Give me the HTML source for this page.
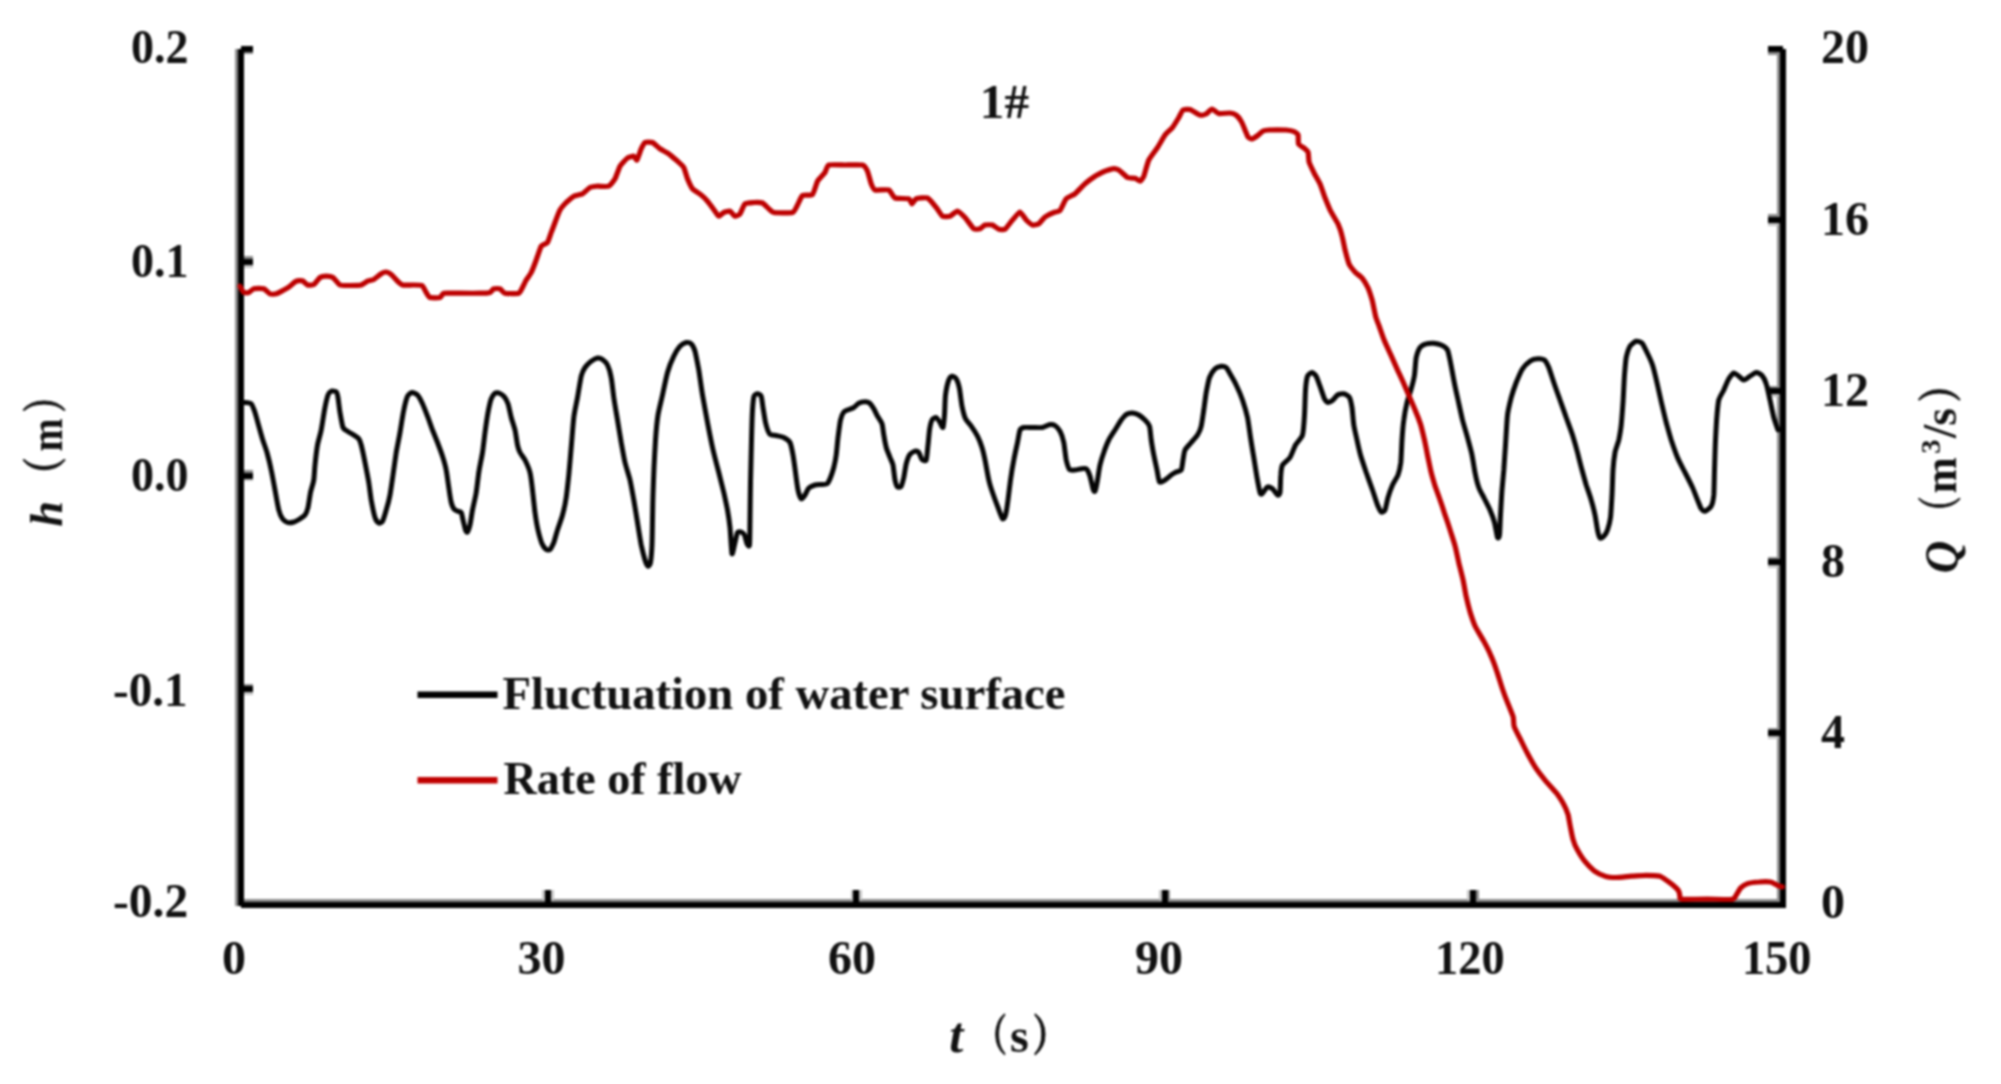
<!DOCTYPE html>
<html lang="en">
<head>
<meta charset="utf-8">
<title>1# Fluctuation of water surface and rate of flow</title>
<style>
html,body{margin:0;padding:0;background:#fff;}
body{width:2001px;height:1084px;overflow:hidden;}
svg{display:block;filter:blur(0.9px);}
text{font-family:"Liberation Serif","Noto Serif CJK SC",serif;font-weight:bold;font-size:48px;fill:#111;}
.it{font-style:italic;}
.cjk{font-family:"Noto Serif CJK SC","Liberation Serif",serif;font-weight:bold;stroke:#111;stroke-width:1.3px;}
.ax{stroke:#000;fill:none;}
</style>
</head>
<body>
<svg width="2001" height="1084" viewBox="0 0 2001 1084">
<rect width="2001" height="1084" fill="#fff"/>
<!-- axes -->
<g id="axes" shape-rendering="crispEdges">
<rect x="235.4" y="48.5" width="2.8" height="857" fill="#8c8c8c"/>
<rect x="244" y="899.2" width="1534" height="3" fill="#8c8c8c"/>
<rect x="1777" y="48.5" width="3" height="853" fill="#8c8c8c"/>
<rect x="244" y="51.5" width="9.2" height="2.6" fill="#8c8c8c"/>
<rect x="241" y="45.5" width="12.2" height="6" fill="#000"/>
<rect x="244" y="256.4" width="9.2" height="2.7" fill="#8c8c8c"/>
<rect x="244" y="265.1" width="9.2" height="2.6" fill="#c4c4c4"/>
<rect x="241" y="259.1" width="12.2" height="6" fill="#000"/>
<rect x="244" y="469.9" width="9.2" height="2.7" fill="#8c8c8c"/>
<rect x="244" y="478.6" width="9.2" height="2.6" fill="#c4c4c4"/>
<rect x="241" y="472.6" width="12.2" height="6" fill="#000"/>
<rect x="244" y="683.5" width="9.2" height="2.7" fill="#8c8c8c"/>
<rect x="244" y="692.2" width="9.2" height="2.6" fill="#c4c4c4"/>
<rect x="241" y="686.2" width="12.2" height="6" fill="#000"/>
<rect x="1767.6" y="52.0" width="10" height="2.6" fill="#8c8c8c"/>
<rect x="1767.6" y="46.0" width="15" height="6" fill="#000"/>
<rect x="1767.6" y="214.4" width="10" height="2.7" fill="#8c8c8c"/>
<rect x="1767.6" y="223.1" width="10" height="2.6" fill="#c4c4c4"/>
<rect x="1767.6" y="217.1" width="15" height="6" fill="#000"/>
<rect x="1767.6" y="385.5" width="10" height="2.7" fill="#8c8c8c"/>
<rect x="1767.6" y="394.2" width="10" height="2.6" fill="#c4c4c4"/>
<rect x="1767.6" y="388.2" width="15" height="6" fill="#000"/>
<rect x="1767.6" y="556.6" width="10" height="2.7" fill="#8c8c8c"/>
<rect x="1767.6" y="565.3" width="10" height="2.6" fill="#c4c4c4"/>
<rect x="1767.6" y="559.3" width="15" height="6" fill="#000"/>
<rect x="1767.6" y="727.7" width="10" height="2.7" fill="#8c8c8c"/>
<rect x="1767.6" y="736.4" width="10" height="2.6" fill="#c4c4c4"/>
<rect x="1767.6" y="730.4" width="15" height="6" fill="#000"/>
<rect x="542.3" y="890" width="2.7" height="10" fill="#c4c4c4"/>
<rect x="551.0" y="890" width="2.7" height="10" fill="#c4c4c4"/>
<rect x="545.0" y="890" width="6" height="14" fill="#000"/>
<rect x="850.6" y="890" width="2.7" height="10" fill="#c4c4c4"/>
<rect x="859.3" y="890" width="2.7" height="10" fill="#c4c4c4"/>
<rect x="853.3" y="890" width="6" height="14" fill="#000"/>
<rect x="1158.9" y="890" width="2.7" height="10" fill="#c4c4c4"/>
<rect x="1167.6" y="890" width="2.7" height="10" fill="#8c8c8c"/>
<rect x="1161.6" y="890" width="6" height="14" fill="#000"/>
<rect x="1467.2" y="890" width="2.7" height="10" fill="#c4c4c4"/>
<rect x="1475.9" y="890" width="2.7" height="10" fill="#8c8c8c"/>
<rect x="1469.9" y="890" width="6" height="14" fill="#000"/>
<rect x="238.1" y="48.5" width="6.2" height="857" fill="#000"/>
<rect x="241" y="902.2" width="1544.6" height="5.6" fill="#000"/>
<rect x="1779.8" y="48.5" width="5.8" height="859" fill="#000"/>
</g>
<!-- curves -->
<g id="curves" fill="none" stroke-linejoin="round" stroke-linecap="round">
<path id="blk" d="M243.8 402.5C244.6 402.6 250.0 402.6 251.2 403.8C252.5 404.9 254.2 410.2 255.0 412.5C255.8 414.8 257.6 422.0 258.5 425.0C259.4 428.0 261.8 437.0 262.8 440.0C263.7 443.0 266.1 449.2 267.0 452.5C267.9 455.8 270.4 465.9 271.2 470.0C272.1 474.1 274.2 485.6 275.0 490.0C275.8 494.4 277.9 506.8 278.8 510.0C279.6 513.2 281.5 517.4 282.5 518.8C283.5 520.1 286.3 522.1 287.5 522.5C288.7 522.9 292.4 522.4 293.8 522.0C295.1 521.6 298.8 519.5 300.0 518.8C301.2 518.0 304.1 516.2 305.0 515.0C305.9 513.8 307.4 510.0 308.0 507.5C308.6 505.0 309.9 495.5 310.5 492.5C311.1 489.5 313.3 483.0 313.8 480.0C314.2 477.0 314.6 468.9 315.0 465.0C315.4 461.1 316.8 448.9 317.5 445.0C318.2 441.1 320.5 433.9 321.2 430.0C322.0 426.1 323.8 413.9 324.5 410.0C325.2 406.1 327.3 397.1 328.0 395.0C328.7 392.9 330.3 391.6 331.2 391.2C332.2 390.9 335.5 391.1 336.2 391.8C337.0 392.4 337.6 395.2 338.0 397.5C338.4 399.8 339.4 409.2 340.0 412.5C340.6 415.8 342.2 425.4 343.0 427.5C343.8 429.6 346.3 430.4 347.5 431.2C348.7 432.1 352.5 434.2 353.8 435.0C355.0 435.8 357.9 437.6 358.8 438.8C359.6 439.9 360.6 442.4 361.2 445.0C361.9 447.6 364.2 458.4 365.0 462.5C365.8 466.6 368.1 478.4 368.8 482.5C369.4 486.6 370.6 496.1 371.2 500.0C371.9 503.9 374.2 515.0 375.0 517.5C375.8 520.0 377.9 522.6 378.8 523.0C379.6 523.4 381.7 522.7 382.5 521.2C383.3 519.8 385.4 512.9 386.2 510.0C387.1 507.1 389.3 498.9 390.0 495.0C390.7 491.1 392.3 479.7 393.0 475.0C393.7 470.3 395.5 457.2 396.2 452.5C397.0 447.8 399.2 437.2 400.0 432.5C400.8 427.8 402.9 414.0 403.8 410.0C404.6 406.0 406.6 398.2 407.5 396.2C408.4 394.3 410.9 392.6 412.0 392.5C413.1 392.4 416.3 393.8 417.5 395.0C418.7 396.2 421.4 401.4 422.5 403.8C423.6 406.1 426.4 413.4 427.5 416.2C428.6 419.1 431.4 427.1 432.5 430.0C433.6 432.9 436.4 439.6 437.5 442.5C438.6 445.4 441.5 453.2 442.5 456.2C443.5 459.3 445.6 466.6 446.2 470.0C446.9 473.4 448.2 483.9 448.8 487.5C449.3 491.1 450.7 500.2 451.2 502.5C451.8 504.8 453.1 507.8 453.8 508.8C454.4 509.7 456.7 510.8 457.5 511.2C458.3 511.7 460.6 511.5 461.2 512.5C461.9 513.5 462.5 518.1 463.0 520.0C463.5 521.9 465.0 528.7 465.5 530.0C466.0 531.3 467.0 532.5 467.5 532.0C468.0 531.5 469.4 527.4 470.0 525.0C470.6 522.6 471.8 513.6 472.5 510.0C473.2 506.4 475.6 496.6 476.2 492.5C476.9 488.4 478.1 476.9 478.8 472.5C479.4 468.1 481.8 456.9 482.5 452.5C483.2 448.1 484.4 436.9 485.0 432.5C485.6 428.1 487.3 416.2 488.0 412.5C488.7 408.8 490.5 400.9 491.2 398.8C492.0 396.6 494.2 393.9 495.0 393.2C495.8 392.6 497.8 392.7 498.8 393.0C499.7 393.3 502.7 395.1 503.8 396.2C504.8 397.4 507.2 401.4 508.0 403.8C508.8 406.1 510.5 414.6 511.2 417.5C512.0 420.4 514.3 427.0 515.0 430.0C515.7 433.0 517.0 442.5 517.5 445.0C518.0 447.5 519.2 450.9 520.0 452.5C520.8 454.1 523.9 457.8 525.0 460.0C526.1 462.2 529.2 469.2 530.0 472.5C530.8 475.8 532.0 485.6 532.5 490.0C533.0 494.4 534.4 508.1 535.0 512.5C535.6 516.9 537.2 526.6 538.0 530.0C538.8 533.4 541.1 541.6 542.0 543.8C542.9 545.9 545.4 548.9 546.2 549.5C547.1 550.1 549.2 550.3 550.0 549.5C550.8 548.7 552.9 544.6 553.8 542.5C554.6 540.4 556.5 533.0 557.5 530.0C558.5 527.0 561.5 518.6 562.5 515.0C563.5 511.4 565.6 501.9 566.2 497.5C566.9 493.1 568.2 480.5 568.8 475.0C569.3 469.5 570.7 453.8 571.2 447.5C571.8 441.2 573.1 423.0 573.8 417.5C574.4 412.0 576.7 402.0 577.5 397.5C578.3 393.0 580.4 379.6 581.2 376.2C582.1 372.9 583.9 369.1 585.0 367.5C586.1 365.9 589.9 362.3 591.2 361.2C592.6 360.2 596.3 358.2 597.5 358.0C598.7 357.8 601.4 358.7 602.5 359.5C603.6 360.3 606.5 363.0 607.5 365.0C608.5 367.0 610.6 373.9 611.2 377.5C611.9 381.1 613.1 392.8 613.8 397.5C614.4 402.2 616.7 415.1 617.5 420.0C618.3 424.9 620.4 437.8 621.2 442.5C622.1 447.2 624.0 458.4 625.0 462.5C626.0 466.6 629.0 475.9 630.0 480.0C631.0 484.1 632.9 495.3 633.8 500.0C634.6 504.7 636.7 517.5 637.5 522.5C638.3 527.5 640.4 540.9 641.2 545.0C642.1 549.1 644.3 557.7 645.0 560.0C645.7 562.3 647.4 566.0 648.0 566.2C648.6 566.5 650.1 564.8 650.5 562.5C650.9 560.2 651.8 549.7 652.0 545.0C652.2 540.3 652.4 525.5 652.5 520.0C652.6 514.5 652.8 500.8 653.0 495.0C653.2 489.2 653.7 473.6 654.0 467.5C654.3 461.4 655.1 445.8 655.5 440.0C655.9 434.2 657.2 419.9 658.0 415.0C658.8 410.1 661.5 399.7 662.5 395.0C663.5 390.3 666.3 376.8 667.5 372.5C668.7 368.2 672.4 359.1 673.8 356.2C675.1 353.4 678.6 347.8 680.0 346.2C681.4 344.7 685.0 342.8 686.2 342.5C687.5 342.2 690.3 342.8 691.2 343.8C692.2 344.7 694.2 348.4 695.0 351.2C695.8 354.1 697.9 365.2 698.8 370.0C699.6 374.8 701.5 389.2 702.5 395.0C703.5 400.8 706.4 416.7 707.5 422.5C708.6 428.3 711.3 442.0 712.5 447.5C713.7 453.0 717.5 467.6 718.8 472.5C720.0 477.4 722.8 488.4 723.8 492.5C724.7 496.6 726.8 506.1 727.5 510.0C728.2 513.9 729.5 522.7 730.0 527.5C730.5 532.3 731.5 552.1 732.0 553.8C732.5 555.4 734.4 544.8 735.0 542.5C735.6 540.2 736.8 533.7 737.5 532.5C738.2 531.3 740.5 531.7 741.2 532.0C742.0 532.3 743.9 533.7 744.5 535.0C745.1 536.3 746.5 542.6 747.0 543.8C747.5 544.9 749.2 547.6 749.5 545.0C749.8 542.4 749.9 526.9 750.0 520.0C750.1 513.1 750.3 491.3 750.5 482.5C750.7 473.7 751.3 448.0 751.5 440.0C751.7 432.0 752.2 414.8 752.5 410.0C752.8 405.2 753.5 398.0 754.0 396.2C754.5 394.5 756.7 393.8 757.5 393.8C758.3 393.8 760.6 394.7 761.2 396.2C761.9 397.8 762.5 404.6 763.0 407.5C763.5 410.4 764.8 419.6 765.5 422.5C766.2 425.4 768.3 432.3 769.5 433.8C770.7 435.2 774.7 435.1 776.2 435.5C777.8 435.9 782.2 436.7 783.8 437.5C785.3 438.3 789.0 440.6 790.0 442.5C791.0 444.4 792.4 451.7 793.0 455.0C793.6 458.3 795.0 468.6 795.5 472.5C796.0 476.4 797.4 487.1 798.0 490.0C798.6 492.9 800.5 498.2 801.2 498.8C802.0 499.3 804.2 496.2 805.0 495.0C805.8 493.8 807.6 489.1 808.8 488.0C809.9 486.9 813.6 485.4 815.0 485.0C816.4 484.6 819.9 484.6 821.2 484.5C822.6 484.4 826.0 484.5 827.0 483.8C828.0 483.0 829.8 479.3 830.5 477.5C831.2 475.7 833.1 470.0 833.8 467.5C834.4 465.0 835.8 458.3 836.2 455.0C836.7 451.7 837.5 441.4 838.0 437.5C838.5 433.6 839.9 422.8 840.5 420.0C841.1 417.2 842.8 413.2 843.8 412.0C844.7 410.8 847.6 410.0 848.8 409.5C849.9 409.0 852.6 408.2 853.8 407.5C854.9 406.8 857.6 403.9 858.8 403.2C859.9 402.6 863.3 401.8 864.5 401.8C865.7 401.7 868.5 402.2 869.5 403.0C870.5 403.8 872.9 407.3 873.8 408.8C874.6 410.2 876.6 414.6 877.5 416.2C878.4 417.9 881.3 421.7 882.0 423.8C882.7 425.8 883.3 432.4 883.8 435.0C884.2 437.6 885.6 445.0 886.2 447.5C886.9 450.0 889.3 455.6 890.0 457.5C890.7 459.4 892.5 462.5 893.0 465.0C893.5 467.5 894.5 477.6 895.0 480.0C895.5 482.4 896.8 486.3 897.5 487.0C898.2 487.7 900.6 487.3 901.2 486.2C901.9 485.2 903.2 480.0 903.8 477.5C904.3 475.0 905.6 466.2 906.2 463.8C906.9 461.3 908.5 456.4 909.5 455.0C910.5 453.6 914.0 451.5 915.0 451.2C916.0 451.0 918.0 451.6 918.8 452.5C919.5 453.4 921.2 458.7 922.0 459.5C922.8 460.3 925.6 461.6 926.2 460.0C926.9 458.4 927.6 448.3 928.0 445.0C928.4 441.7 929.1 432.8 929.5 430.0C929.9 427.2 931.3 421.4 932.0 420.0C932.7 418.6 935.4 417.2 936.2 417.5C937.1 417.8 939.3 421.4 940.0 422.5C940.7 423.6 942.5 428.3 943.0 427.5C943.5 426.7 944.2 418.6 944.5 415.0C944.8 411.4 945.0 398.9 945.5 395.0C946.0 391.1 948.0 382.1 948.8 380.0C949.5 377.9 951.2 376.4 952.0 376.2C952.8 376.1 955.4 377.4 956.2 378.8C957.1 380.1 958.9 385.7 959.5 388.8C960.1 391.8 961.3 402.9 962.0 406.2C962.7 409.6 964.5 416.6 965.5 418.8C966.5 420.9 969.9 424.3 971.2 426.2C972.6 428.2 976.3 433.9 977.5 436.2C978.7 438.6 981.1 444.6 982.0 447.5C982.9 450.4 984.8 458.9 985.5 462.5C986.2 466.1 988.0 476.7 988.8 480.0C989.5 483.3 991.5 489.6 992.5 492.5C993.5 495.4 996.4 503.4 997.5 506.2C998.6 509.1 1001.6 517.8 1002.5 518.8C1003.4 519.7 1004.9 517.1 1005.5 515.0C1006.1 512.9 1007.5 503.9 1008.0 500.0C1008.5 496.1 1009.9 484.4 1010.5 480.0C1011.1 475.6 1013.0 464.1 1013.8 460.0C1014.5 455.9 1016.8 445.8 1017.5 442.5C1018.2 439.2 1019.3 431.6 1020.0 430.0C1020.7 428.4 1022.4 427.8 1023.8 427.5C1025.1 427.2 1030.4 427.5 1032.5 427.5C1034.6 427.5 1040.6 427.8 1042.5 427.5C1044.4 427.2 1048.6 424.7 1050.0 424.5C1051.4 424.3 1053.9 424.8 1055.0 425.5C1056.1 426.2 1059.0 429.4 1060.0 431.2C1061.0 433.1 1063.1 439.3 1063.8 442.5C1064.4 445.7 1065.6 457.0 1066.2 460.0C1066.9 463.0 1068.5 468.4 1069.5 469.5C1070.5 470.6 1073.7 470.1 1075.0 470.0C1076.3 469.9 1080.0 468.9 1081.2 468.8C1082.5 468.6 1085.3 467.9 1086.2 468.8C1087.2 469.6 1089.3 474.1 1090.0 476.2C1090.7 478.4 1092.5 487.1 1093.0 488.8C1093.5 490.4 1094.5 492.2 1095.0 491.2C1095.5 490.3 1097.0 482.9 1097.5 480.0C1098.0 477.1 1099.3 468.0 1100.0 465.0C1100.7 462.0 1102.8 455.2 1103.8 452.5C1104.7 449.8 1107.5 442.5 1108.8 440.0C1110.0 437.5 1113.6 432.2 1115.0 430.0C1116.4 427.8 1120.0 421.7 1121.2 420.0C1122.5 418.3 1125.0 415.3 1126.2 414.5C1127.5 413.7 1131.1 412.9 1132.5 413.0C1133.9 413.1 1137.4 414.2 1138.8 415.0C1140.1 415.8 1143.8 418.8 1145.0 420.0C1146.2 421.2 1148.8 424.1 1149.5 426.2C1150.2 428.4 1150.8 436.8 1151.2 440.0C1151.7 443.2 1153.1 451.7 1153.8 455.0C1154.4 458.3 1156.4 467.0 1157.0 470.0C1157.6 473.0 1158.6 480.9 1159.5 482.0C1160.4 483.1 1163.7 480.8 1165.0 480.0C1166.3 479.2 1170.0 475.9 1171.2 475.0C1172.5 474.1 1175.2 472.6 1176.2 472.0C1177.3 471.4 1180.5 471.3 1181.2 470.0C1182.0 468.7 1182.6 462.2 1183.0 460.0C1183.4 457.8 1184.1 451.9 1185.0 450.0C1185.9 448.1 1189.9 444.1 1191.2 442.5C1192.6 440.9 1196.4 436.8 1197.5 435.0C1198.6 433.2 1200.6 429.0 1201.2 426.2C1201.9 423.5 1203.2 413.7 1203.8 410.0C1204.3 406.3 1205.6 396.1 1206.2 392.5C1206.9 388.9 1208.5 380.1 1209.5 377.5C1210.5 374.9 1213.7 370.0 1215.0 368.8C1216.3 367.5 1220.0 366.4 1221.2 366.2C1222.5 366.1 1225.3 366.7 1226.2 367.5C1227.2 368.3 1228.9 371.8 1230.0 373.8C1231.1 375.7 1234.9 382.1 1236.2 385.0C1237.6 387.9 1241.3 396.4 1242.5 400.0C1243.7 403.6 1246.6 413.4 1247.5 417.5C1248.4 421.6 1249.8 433.1 1250.5 437.5C1251.2 441.9 1253.0 453.1 1253.8 457.5C1254.5 461.9 1256.3 473.6 1257.0 477.5C1257.7 481.4 1259.5 490.7 1260.0 492.5C1260.5 494.3 1261.2 494.4 1262.0 493.8C1262.8 493.1 1266.3 487.6 1267.5 487.0C1268.7 486.4 1271.4 487.9 1272.5 488.8C1273.6 489.6 1276.7 494.6 1277.5 495.0C1278.3 495.4 1279.6 494.7 1280.0 492.5C1280.4 490.3 1280.5 478.0 1280.8 475.0C1281.0 472.0 1281.5 466.9 1282.5 465.0C1283.5 463.1 1288.6 459.7 1290.0 457.5C1291.4 455.3 1294.1 447.5 1295.5 445.0C1296.9 442.5 1301.5 438.3 1302.5 435.0C1303.5 431.7 1304.2 419.9 1304.5 415.0C1304.8 410.1 1305.2 394.3 1305.5 390.0C1305.8 385.7 1306.8 378.2 1307.5 376.2C1308.2 374.3 1311.0 372.5 1312.0 372.5C1313.0 372.5 1315.4 374.7 1316.2 376.2C1317.1 377.8 1319.1 383.8 1320.0 386.2C1320.9 388.7 1323.6 397.0 1324.5 398.8C1325.4 400.5 1327.1 402.4 1328.0 402.5C1328.9 402.6 1332.0 400.8 1333.0 400.0C1334.0 399.2 1336.3 395.7 1337.5 395.0C1338.7 394.3 1342.4 393.5 1343.8 393.8C1345.1 394.0 1348.6 396.0 1349.5 397.5C1350.4 399.0 1351.5 404.5 1352.0 407.5C1352.5 410.5 1353.2 421.4 1353.8 425.0C1354.3 428.6 1356.3 436.7 1357.0 440.0C1357.7 443.3 1359.5 451.4 1360.5 455.0C1361.5 458.6 1364.9 468.6 1366.2 472.5C1367.6 476.4 1371.3 486.4 1372.5 490.0C1373.7 493.6 1376.5 502.6 1377.5 505.0C1378.5 507.4 1380.4 511.4 1381.2 512.0C1382.1 512.5 1384.3 511.6 1385.0 510.0C1385.7 508.4 1387.2 500.2 1388.0 497.5C1388.8 494.8 1391.4 487.5 1392.5 485.0C1393.6 482.5 1397.1 477.5 1398.0 475.0C1398.9 472.5 1400.3 466.4 1400.8 462.5C1401.2 458.6 1401.7 444.7 1402.0 440.0C1402.3 435.3 1403.2 424.1 1403.8 420.0C1404.3 415.9 1406.2 405.9 1407.0 402.5C1407.8 399.1 1410.4 391.8 1411.2 388.8C1412.1 385.7 1414.0 378.4 1414.5 375.0C1415.0 371.6 1415.6 360.5 1416.2 357.5C1416.9 354.5 1418.9 349.0 1420.0 347.5C1421.1 346.0 1424.7 344.2 1426.2 343.8C1427.8 343.3 1432.1 343.1 1433.8 343.2C1435.4 343.4 1439.7 344.3 1441.2 345.0C1442.8 345.7 1446.5 348.1 1447.5 350.0C1448.5 351.9 1449.8 359.2 1450.5 362.5C1451.2 365.8 1453.0 376.1 1453.8 380.0C1454.5 383.9 1456.5 393.1 1457.5 397.5C1458.5 401.9 1461.4 415.6 1462.5 420.0C1463.6 424.4 1466.5 433.6 1467.5 437.5C1468.5 441.4 1471.2 451.1 1472.0 455.0C1472.8 458.9 1474.3 468.9 1475.0 472.5C1475.7 476.1 1477.8 484.8 1478.8 487.5C1479.7 490.2 1482.5 495.0 1483.8 497.5C1485.0 500.0 1488.8 507.2 1490.0 510.0C1491.2 512.8 1493.7 519.5 1494.5 522.5C1495.3 525.5 1497.0 536.1 1497.5 537.5C1498.0 538.9 1499.2 537.5 1499.5 535.0C1499.8 532.5 1500.2 520.0 1500.5 515.0C1500.8 510.1 1501.6 494.9 1502.0 490.0C1502.4 485.1 1503.4 474.9 1503.8 470.0C1504.1 465.1 1505.1 451.1 1505.5 445.0C1505.9 438.9 1506.9 420.2 1507.5 415.0C1508.1 409.8 1510.3 401.1 1511.2 397.5C1512.2 393.9 1515.0 385.7 1516.2 382.5C1517.5 379.3 1521.0 371.1 1522.5 368.8C1524.0 366.4 1528.3 362.4 1530.0 361.2C1531.7 360.1 1535.9 358.9 1537.5 358.8C1539.1 358.6 1543.3 359.0 1544.5 360.0C1545.7 361.0 1547.7 365.0 1548.8 367.5C1549.8 370.0 1552.5 378.9 1553.8 382.5C1555.0 386.1 1558.6 396.1 1560.0 400.0C1561.4 403.9 1564.9 413.6 1566.2 417.5C1567.6 421.4 1571.3 431.1 1572.5 435.0C1573.7 438.9 1576.5 448.6 1577.5 452.5C1578.5 456.4 1581.0 466.4 1582.0 470.0C1583.0 473.6 1585.2 481.7 1586.2 485.0C1587.3 488.3 1590.3 496.7 1591.2 500.0C1592.2 503.3 1594.3 511.7 1595.0 515.0C1595.7 518.3 1597.0 527.5 1597.5 530.0C1598.0 532.5 1599.3 537.3 1600.0 538.0C1600.7 538.7 1602.9 537.1 1603.8 536.2C1604.6 535.4 1606.8 532.1 1607.5 530.0C1608.2 527.9 1610.0 521.4 1610.5 517.5C1611.0 513.6 1611.7 500.2 1612.0 495.0C1612.3 489.8 1612.7 474.7 1613.0 470.0C1613.3 465.3 1614.4 455.8 1615.0 452.5C1615.6 449.2 1618.1 443.0 1618.8 440.0C1619.4 437.0 1620.8 429.1 1621.2 425.0C1621.7 420.9 1622.6 408.0 1623.0 402.5C1623.4 397.0 1624.1 379.9 1624.5 375.0C1624.9 370.1 1625.6 360.7 1626.2 357.5C1626.9 354.3 1628.9 348.0 1630.0 346.2C1631.1 344.5 1634.9 341.6 1636.2 341.2C1637.6 340.9 1640.8 341.8 1642.0 343.0C1643.2 344.2 1645.8 350.1 1647.0 352.5C1648.2 354.9 1651.3 361.4 1652.5 365.0C1653.7 368.6 1656.5 380.6 1657.5 385.0C1658.5 389.4 1661.0 400.9 1662.0 405.0C1663.0 409.1 1665.2 418.6 1666.2 422.5C1667.3 426.4 1670.0 436.1 1671.2 440.0C1672.5 443.9 1676.0 453.9 1677.5 457.5C1679.0 461.1 1683.3 469.2 1685.0 472.5C1686.7 475.8 1691.1 484.5 1692.5 487.5C1693.9 490.5 1696.5 497.7 1697.5 500.0C1698.5 502.3 1700.4 507.5 1701.2 508.8C1702.1 510.0 1703.9 511.5 1705.0 511.2C1706.1 511.0 1710.3 508.0 1711.2 506.2C1712.2 504.5 1713.4 499.0 1713.8 495.0C1714.1 491.0 1714.3 476.1 1714.5 470.0C1714.7 463.9 1715.2 446.1 1715.5 440.0C1715.8 433.9 1716.6 419.4 1717.0 415.0C1717.4 410.6 1718.0 402.8 1718.8 400.0C1719.5 397.2 1722.7 392.3 1723.8 390.0C1724.8 387.7 1727.7 380.6 1728.8 378.8C1729.8 376.9 1732.7 373.3 1733.8 373.0C1734.8 372.7 1737.7 375.5 1738.8 376.2C1739.8 377.0 1742.5 380.0 1743.8 380.0C1745.0 380.0 1748.6 377.1 1750.0 376.2C1751.4 375.4 1754.9 372.6 1756.2 372.5C1757.6 372.4 1760.9 374.3 1762.0 375.5C1763.1 376.7 1765.4 381.1 1766.2 383.8C1767.1 386.4 1769.2 396.3 1770.0 400.0C1770.8 403.7 1772.9 414.2 1773.8 417.5C1774.6 420.8 1777.5 428.6 1778.0 430.0" stroke="#050505" stroke-width="5.0"/>
<path id="red" d="M240.0 286.2C240.3 286.8 243.0 292.0 243.8 292.5C244.5 293.0 247.9 292.8 248.8 292.5C249.6 292.2 252.5 289.1 253.8 288.8C255.0 288.4 262.4 288.3 263.8 288.8C265.1 289.2 269.0 293.3 270.0 293.8C271.0 294.2 275.1 294.1 276.2 293.8C277.4 293.4 282.6 290.6 283.8 290.0C284.9 289.4 289.0 287.0 290.0 286.2C291.0 285.5 295.2 281.7 296.2 281.2C297.3 280.8 301.6 280.4 302.5 280.8C303.4 281.1 306.6 284.7 307.5 285.0C308.4 285.3 312.7 285.1 313.8 284.5C314.8 283.9 319.0 278.2 320.0 277.5C321.0 276.8 325.2 276.2 326.2 276.2C327.3 276.2 331.9 276.8 333.0 277.5C334.1 278.2 338.6 284.3 340.0 285.0C341.4 285.7 348.2 285.5 350.0 285.5C351.8 285.5 359.8 285.4 361.2 285.0C362.7 284.6 366.5 281.7 367.5 281.2C368.5 280.8 372.6 280.1 373.8 279.5C374.9 278.9 380.2 274.4 381.2 273.8C382.3 273.1 385.4 271.9 386.2 272.0C387.1 272.1 390.3 273.7 391.2 274.5C392.2 275.3 396.6 280.4 397.5 281.2C398.4 282.1 401.2 284.7 402.5 285.0C403.8 285.3 410.9 285.0 412.5 285.0C414.1 285.0 420.9 284.9 422.0 285.5C423.1 286.1 425.6 291.5 426.2 292.5C426.9 293.5 428.9 297.1 430.0 297.5C431.1 297.9 438.9 297.9 440.0 297.5C441.1 297.1 442.5 293.6 443.8 293.2C445.0 292.9 452.0 293.2 455.0 293.2C458.0 293.2 477.1 293.3 480.0 293.2C482.9 293.2 488.9 292.9 490.0 292.5C491.1 292.1 492.9 289.1 493.8 288.8C494.6 288.4 499.1 288.4 500.0 288.8C500.9 289.1 503.4 292.9 505.0 293.2C506.6 293.6 517.3 293.7 518.8 293.2C520.2 292.8 521.9 288.6 522.5 287.5C523.1 286.4 525.5 281.2 526.2 280.0C527.0 278.8 530.4 274.2 531.2 272.5C532.1 270.8 535.4 262.2 536.2 260.0C537.1 257.8 540.3 247.7 541.2 246.2C542.2 244.8 546.7 243.6 547.5 242.5C548.3 241.4 550.6 234.2 551.2 232.5C551.9 230.8 554.3 224.4 555.0 222.5C555.7 220.6 559.1 211.7 560.0 210.0C560.9 208.3 565.1 203.6 566.2 202.5C567.4 201.4 572.4 197.0 573.8 196.2C575.1 195.5 581.1 194.5 582.5 193.8C583.9 193.0 588.8 188.1 590.0 187.5C591.2 186.9 595.9 186.4 597.5 186.2C599.1 186.1 607.3 186.9 608.8 186.2C610.2 185.6 614.1 180.4 615.0 178.8C615.9 177.1 619.0 168.0 620.0 166.2C621.0 164.5 626.4 158.8 627.5 158.0C628.6 157.2 633.0 156.1 633.8 156.2C634.5 156.4 636.4 160.6 637.0 160.0C637.6 159.4 640.6 150.2 641.2 148.8C641.9 147.3 644.1 143.0 645.0 142.5C645.9 142.0 651.2 142.0 652.5 142.5C653.8 143.0 658.6 147.8 660.0 148.8C661.4 149.7 667.3 152.7 668.8 153.8C670.2 154.8 676.2 160.1 677.5 161.2C678.8 162.4 682.9 166.0 683.8 167.5C684.6 169.0 686.8 177.0 687.5 178.8C688.2 180.5 691.4 187.4 692.5 188.8C693.6 190.1 700.0 194.0 701.2 195.0C702.5 196.0 706.4 199.9 707.5 201.2C708.6 202.6 714.1 210.0 715.0 211.2C715.9 212.5 718.0 216.1 718.8 216.2C719.5 216.4 722.8 212.9 723.8 212.5C724.7 212.1 729.1 210.9 730.0 211.2C730.9 211.6 734.2 216.0 735.0 216.2C735.8 216.5 739.2 214.8 740.0 213.8C740.8 212.7 743.9 204.7 745.0 203.8C746.1 202.8 752.3 202.6 753.8 202.5C755.2 202.4 761.2 202.5 762.5 203.0C763.8 203.5 767.8 208.0 768.8 208.8C769.7 209.5 771.8 212.2 773.8 212.5C775.7 212.8 790.5 213.1 792.5 212.5C794.5 211.9 796.7 206.4 797.5 205.0C798.3 203.6 801.2 196.4 802.5 195.5C803.8 194.6 811.2 195.7 812.5 194.5C813.8 193.3 816.5 183.1 817.5 181.2C818.5 179.4 824.1 173.9 825.0 172.5C825.9 171.1 827.1 165.6 828.8 165.0C830.4 164.4 842.2 165.0 845.0 165.0C847.8 165.0 860.6 164.5 862.5 165.0C864.4 165.5 866.8 169.7 867.5 171.2C868.2 172.8 870.6 182.2 871.2 183.8C871.9 185.3 873.5 189.5 875.0 190.0C876.5 190.5 887.1 189.3 888.8 190.0C890.4 190.7 893.3 197.3 895.0 198.0C896.7 198.7 907.3 198.3 908.8 198.8C910.2 199.2 911.4 203.8 912.0 203.8C912.6 203.8 915.0 199.2 916.2 198.8C917.5 198.3 925.8 197.3 927.5 198.0C929.2 198.7 935.0 206.0 936.2 207.5C937.5 209.0 941.4 215.5 942.5 216.2C943.6 217.0 948.8 216.7 950.0 216.2C951.2 215.8 956.2 211.1 957.5 211.2C958.8 211.4 963.6 216.0 965.0 217.5C966.4 219.0 972.5 227.8 973.8 228.8C975.0 229.7 979.1 229.1 980.0 228.8C980.9 228.4 984.0 225.3 985.0 225.0C986.0 224.7 991.4 224.6 992.5 225.0C993.6 225.4 997.7 228.9 998.8 229.2C999.8 229.6 1003.9 230.0 1005.0 229.2C1006.1 228.5 1011.2 221.4 1012.5 220.0C1013.8 218.6 1018.9 212.0 1020.0 212.0C1021.1 212.0 1025.2 218.9 1026.2 220.0C1027.3 221.1 1031.5 224.7 1032.5 225.0C1033.5 225.3 1037.7 224.4 1038.8 223.8C1039.8 223.1 1043.8 217.9 1045.0 217.0C1046.2 216.1 1052.5 213.0 1053.8 212.5C1055.0 212.0 1059.0 211.6 1060.0 210.5C1061.0 209.4 1065.0 200.1 1066.2 198.8C1067.5 197.4 1073.4 195.0 1075.0 193.8C1076.6 192.5 1083.3 185.2 1085.0 183.8C1086.7 182.3 1093.3 177.3 1095.0 176.2C1096.7 175.2 1103.5 171.9 1105.0 171.2C1106.5 170.6 1111.4 168.9 1112.5 168.8C1113.6 168.6 1117.5 169.3 1118.8 170.0C1120.0 170.7 1126.1 176.8 1127.5 177.5C1128.9 178.2 1134.0 177.9 1135.0 178.2C1136.0 178.6 1139.3 181.4 1140.0 181.2C1140.7 181.1 1143.0 178.0 1143.8 176.2C1144.5 174.5 1147.6 162.4 1148.8 160.0C1149.9 157.6 1156.1 149.6 1157.5 147.5C1158.9 145.4 1163.8 136.7 1165.0 135.0C1166.2 133.3 1171.4 129.0 1172.5 127.5C1173.6 126.0 1177.9 119.0 1178.8 117.5C1179.6 116.0 1182.1 110.7 1183.0 110.0C1183.9 109.3 1188.6 109.1 1190.0 109.5C1191.4 109.9 1198.7 114.6 1200.0 115.0C1201.3 115.4 1205.0 114.5 1206.0 114.0C1207.0 113.5 1210.9 109.0 1212.0 109.0C1213.1 109.0 1217.5 113.3 1219.0 113.6C1220.5 113.9 1228.6 112.9 1230.0 113.0C1231.4 113.1 1235.1 114.3 1236.0 115.0C1237.0 115.7 1240.3 119.8 1241.0 121.0C1241.8 122.3 1244.5 128.7 1245.0 130.0C1245.6 131.4 1247.5 136.3 1248.0 137.0C1248.6 137.8 1250.9 139.1 1251.7 139.0C1252.4 139.0 1256.1 136.7 1257.1 136.0C1258.0 135.4 1262.1 131.5 1263.1 131.0C1264.1 130.5 1267.2 130.1 1269.1 130.0C1271.0 129.9 1284.0 129.9 1286.1 130.0C1288.2 130.2 1293.1 131.2 1294.1 131.6C1295.1 132.0 1297.7 134.0 1298.1 135.0C1298.5 136.1 1298.0 143.0 1298.5 144.0C1299.0 145.1 1303.3 147.4 1304.1 148.0C1304.9 148.7 1307.7 150.9 1308.1 152.1C1308.5 153.2 1308.6 160.3 1309.1 162.1C1309.6 163.8 1313.2 171.2 1314.1 173.1C1315.0 174.9 1319.2 182.0 1320.1 184.1C1321.0 186.2 1324.3 195.9 1325.1 198.1C1326.0 200.3 1329.0 207.9 1330.1 210.1C1331.2 212.3 1337.1 222.0 1338.1 224.1C1339.1 226.3 1341.6 234.0 1342.1 236.1C1342.7 238.3 1344.6 247.8 1345.1 250.2C1345.7 252.5 1348.3 262.3 1349.1 264.2C1350.0 266.0 1354.1 271.0 1355.2 272.2C1356.2 273.3 1361.1 276.8 1362.2 278.2C1363.2 279.5 1367.3 286.4 1368.2 288.2C1369.0 290.0 1371.5 297.8 1372.2 300.2C1372.8 302.6 1375.2 314.9 1375.8 317.0C1376.4 319.2 1378.4 324.1 1379.1 326.0C1379.8 327.9 1383.1 337.7 1384.1 340.0C1385.0 342.4 1389.4 351.7 1390.5 354.1C1391.5 356.4 1395.6 365.7 1396.7 368.1C1397.7 370.4 1402.1 379.7 1403.1 382.1C1404.1 384.4 1408.1 393.8 1409.1 396.1C1410.1 398.4 1414.2 407.8 1415.1 410.1C1416.1 412.4 1419.7 421.6 1420.5 424.1C1421.3 426.6 1423.9 437.5 1424.5 440.1C1425.1 442.8 1427.2 453.5 1427.7 456.2C1428.3 458.8 1430.5 469.7 1431.1 472.2C1431.7 474.7 1434.4 483.9 1435.1 486.2C1435.9 488.5 1439.3 497.8 1440.1 500.2C1441.0 502.6 1444.3 512.7 1445.1 515.2C1446.0 517.7 1449.3 527.5 1450.1 530.0C1450.9 532.6 1454.4 543.2 1455.1 546.0C1455.9 548.9 1458.4 561.2 1459.1 564.1C1459.8 566.9 1462.5 577.4 1463.1 580.1C1463.7 582.7 1465.5 593.4 1466.1 596.1C1466.7 598.8 1469.4 609.6 1470.1 612.1C1470.9 614.6 1474.0 623.8 1475.1 626.1C1476.2 628.5 1481.8 637.6 1483.1 640.1C1484.5 642.6 1490.0 653.5 1491.1 656.2C1492.3 658.8 1496.2 669.5 1497.1 672.2C1498.1 674.8 1501.2 685.5 1502.2 688.2C1503.1 690.9 1507.2 701.8 1508.2 704.2C1509.1 706.6 1512.7 715.2 1513.2 717.0C1513.7 718.8 1513.5 724.3 1514.1 726.2C1514.7 728.1 1519.6 737.7 1520.8 740.0C1521.9 742.3 1526.2 751.1 1527.4 753.3C1528.6 755.5 1533.4 764.4 1534.9 766.6C1536.3 768.8 1543.0 777.6 1544.8 779.8C1546.6 782.1 1554.9 791.1 1556.5 793.1C1558.0 795.2 1563.0 803.0 1563.9 804.8C1564.9 806.6 1567.5 812.8 1568.1 814.7C1568.6 816.7 1570.1 825.9 1570.6 828.0C1571.0 830.1 1572.5 837.8 1573.1 839.6C1573.6 841.4 1576.2 847.8 1577.2 849.6C1578.2 851.4 1583.2 859.4 1584.7 861.2C1586.1 863.0 1593.0 869.9 1594.6 871.2C1596.3 872.4 1602.8 875.6 1604.6 876.1C1606.4 876.7 1614.0 877.5 1616.2 877.5C1618.4 877.5 1628.7 876.3 1631.2 876.1C1633.7 876.0 1643.8 875.3 1646.1 875.3C1648.5 875.3 1657.6 875.7 1659.4 876.1C1661.2 876.6 1666.3 880.2 1667.7 881.1C1669.1 882.1 1675.0 886.8 1676.0 887.8C1677.0 888.7 1679.0 891.8 1679.3 892.7C1679.7 893.6 1679.9 898.0 1680.1 898.6C1680.4 899.1 1680.4 899.3 1682.6 899.4C1684.9 899.4 1703.4 899.1 1707.5 899.1C1711.7 899.1 1730.0 899.8 1732.4 899.4C1734.9 899.0 1735.9 895.4 1736.6 894.4C1737.3 893.4 1739.8 888.7 1740.7 887.8C1741.6 886.9 1745.9 884.1 1747.4 883.6C1748.9 883.1 1757.1 882.1 1759.0 882.0C1760.9 881.8 1769.1 881.7 1770.6 882.0C1772.2 882.2 1776.3 884.9 1777.3 885.3C1778.2 885.7 1781.8 886.8 1782.3 886.9" stroke="#bd0000" stroke-width="5.2"/>
</g>
<!-- legend -->
<line x1="417.5" y1="694.8" x2="497.5" y2="694.8" stroke="#000" stroke-width="6.4"/>
<line x1="417.5" y1="780.3" x2="497.5" y2="780.3" stroke="#c00000" stroke-width="6.4"/>
<text x="502.5" y="708.7" style="font-size:46px" textLength="563" lengthAdjust="spacingAndGlyphs">Fluctuation of water surface</text>
<text x="503.5" y="793.5" style="font-size:46px" textLength="238" lengthAdjust="spacingAndGlyphs">Rate of flow</text>
<!-- title -->
<text x="979.8" y="117.6" textLength="49.3" lengthAdjust="spacingAndGlyphs">1#</text>
<!-- left tick labels -->
<g text-anchor="end">
<text x="188.6" y="63" textLength="57.5" lengthAdjust="spacingAndGlyphs">0.2</text>
<text x="188.6" y="276.5" textLength="57.5" lengthAdjust="spacingAndGlyphs">0.1</text>
<text x="188.6" y="490.5" textLength="57.5" lengthAdjust="spacingAndGlyphs">0.0</text>
<text x="187.6" y="705.8" textLength="74.6" lengthAdjust="spacingAndGlyphs">-0.1</text>
<text x="188.2" y="917.2" textLength="75.2" lengthAdjust="spacingAndGlyphs">-0.2</text>
</g>
<!-- right tick labels -->
<g text-anchor="start">
<text x="1821" y="63">20</text>
<text x="1821" y="234.5">16</text>
<text x="1821" y="406">12</text>
<text x="1821" y="577">8</text>
<text x="1821" y="747.5">4</text>
<text x="1821" y="918">0</text>
</g>
<!-- bottom tick labels -->
<g text-anchor="middle">
<text x="234" y="973.7">0</text>
<text x="541.5" y="973.7">30</text>
<text x="852" y="973.7">60</text>
<text x="1159" y="973.7">90</text>
<text x="1469.8" y="973.7" textLength="69.6" lengthAdjust="spacingAndGlyphs">120</text>
<text x="1776.7" y="973.7" textLength="69.6" lengthAdjust="spacingAndGlyphs">150</text>
</g>
<!-- x title -->
<text class="it" transform="translate(949.22 1051.58) scale(1.054 1.036)">t</text>
<text class="cjk" transform="translate(975.85 1051.17) scale(0.646 0.895)">（</text>
<text class="b" transform="translate(1009.99 1051.60) scale(1.006 0.996)">s</text>
<text class="cjk" transform="translate(1032.85 1051.17) scale(0.716 0.895)">）</text>
<!-- left title -->
<text class="it" transform="translate(62.10 526.77) rotate(-90) scale(0.968 0.968)">h</text>
<text class="cjk" transform="translate(61.36 491.59) rotate(-90) scale(0.709 0.921)">（</text>
<text class="b" transform="translate(62.10 451.44) rotate(-90) scale(0.829 0.969)">m</text>
<text class="cjk" transform="translate(61.36 412.28) rotate(-90) scale(0.660 0.921)">）</text>
<!-- right title -->
<text class="it" transform="translate(1957.73 573.14) rotate(-90) scale(0.937 1.003)">Q</text>
<text class="cjk" transform="translate(1956.29 527.14) rotate(-90) scale(0.639 0.914)">（</text>
<text class="b" transform="translate(1956.30 493.43) rotate(-90) scale(0.908 0.947)">m</text>
<text class="b" transform="translate(1939.81 453.74) rotate(-90) scale(0.595 0.577)">3</text>
<text class="b" transform="translate(1956.00 438.00) rotate(-90) scale(0.996 1.000)">/</text>
<text class="b" transform="translate(1955.82 425.73) rotate(-90) scale(0.950 0.970)">s</text>
<text class="cjk" transform="translate(1956.29 402.03) rotate(-90) scale(0.709 0.914)">）</text>
</svg>
</body>
</html>
